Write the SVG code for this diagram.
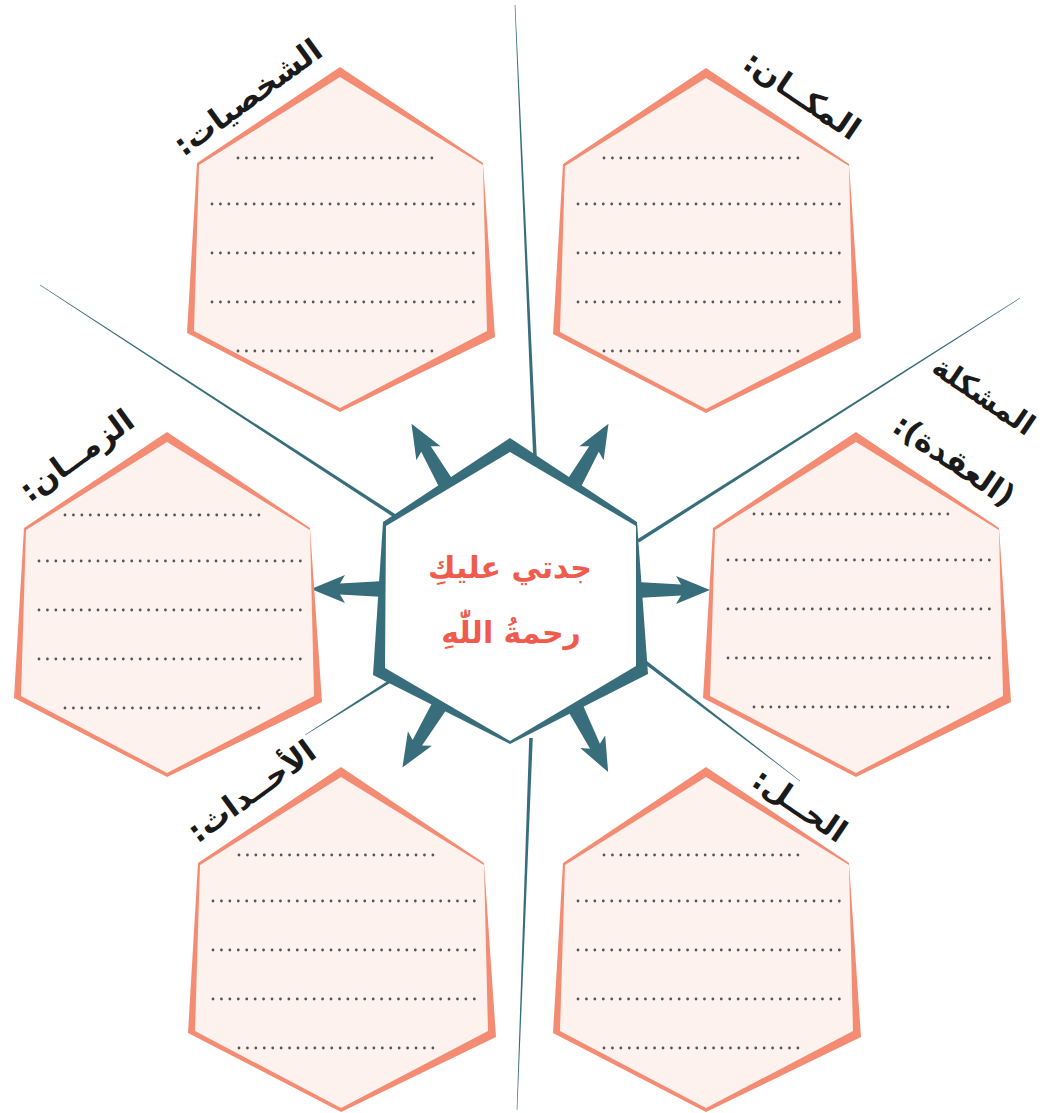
<svg xmlns="http://www.w3.org/2000/svg" xmlns:xlink="http://www.w3.org/1999/xlink" width="1045" height="1113" viewBox="0 0 1045 1113">
  <style>
    .hexOuter { fill: #F48B73; }
    .hexInner { fill: #FEF2EE; }
    .dots { stroke: #555555; stroke-width: 2.8; stroke-linecap: round; stroke-dasharray: 0 8.43; fill: none; }
    .teal { fill: #386E7B; }
    .label { font-family: "DejaVu Sans", "Noto Sans", sans-serif; font-weight: bold; font-size: 31px; fill: #1a1a1a; text-anchor: middle; }
    .center { font-family: "DejaVu Sans", "Noto Sans", sans-serif; font-weight: bold; font-size: 30px; fill: #EF5B4C; text-anchor: middle; }
  </style>
  <defs>
    <g id="hex">
      <polygon class="hexOuter" points="0,0 -143,96 -153,266 0,345 155,270 143,96"/>
      <polygon class="hexInner" points="0,10 -141,98 -146,264 0,341 147,264 143,98"/>
    </g>
    <g id="rows">
      <line class="dots" x1="-102" y1="0" x2="92.4" y2="0"/>
      <line class="dots" x1="-128" y1="46" x2="133.8" y2="46"/>
      <line class="dots" x1="-128" y1="95" x2="133.8" y2="95"/>
      <line class="dots" x1="-128" y1="144" x2="133.8" y2="144"/>
      <line class="dots" x1="-102" y1="193" x2="92.4" y2="193"/>
    </g>
    <path id="arrow" d="M0,-8 L44,-5.5 L39,-14 L73,0 L39,14 L44,5.5 L0,8 Z"/>
  </defs>

  <rect width="1045" height="1113" fill="#ffffff"/>

  <g id="connectors" class="teal">
    <polygon points="515.3,5 536.8,457.9 533.2,458.1 514.7,5"/>
    <polygon points="40.16,284.75 399.0,516.5 397.0,519.5 39.84,285.25"/>
    <polygon points="1019.84,297.75 637.03,539.48 638.97,542.52 1020.16,298.25"/>
    <polygon points="800.12,780.84 641.1,656.57 638.9,659.43 799.88,781.16"/>
    <polygon points="305.1,735.17 392.8,681.27 391.2,678.73 304.9,734.83"/>
    <polygon points="517.3,1110 532.8,738.07 529.2,737.93 516.7,1110"/>
    <use xlink:href="#arrow" href="#arrow" transform="translate(448,487) rotate(-120)"/>
    <use xlink:href="#arrow" href="#arrow" transform="translate(572,487) rotate(-60)"/>
    <use xlink:href="#arrow" href="#arrow" transform="translate(637,590)"/>
    <use xlink:href="#arrow" href="#arrow" transform="translate(384,589) rotate(180)"/>
    <use xlink:href="#arrow" href="#arrow" transform="translate(440,705) rotate(121)"/>
    <use xlink:href="#arrow" href="#arrow" transform="translate(575,707) rotate(63)"/>
  </g>

  <g id="node-center">
    <polygon class="teal" points="510,438 383,522 373,675 510,744 648,674 637,522"/>
    <polygon fill="#ffffff" points="510,452 386,526 385,668 510,741 636,666 636,526"/>
    <text class="center" x="510" y="578" direction="rtl">جدتي عليكِ</text>
    <text class="center" x="511" y="643" direction="rtl">رحمةُ اللّٰهِ</text>
  </g>

  <g id="node-characters">
    <use xlink:href="#hex" href="#hex" x="340" y="67"/>
    <use xlink:href="#rows" href="#rows" x="340" y="158"/>
    <text class="label" direction="rtl" transform="translate(254,106) rotate(-36)">الشخصيات:</text>
  </g>

  <g id="node-place">
    <use xlink:href="#hex" href="#hex" x="706" y="68"/>
    <use xlink:href="#rows" href="#rows" x="706" y="158"/>
    <text class="label" direction="rtl" transform="translate(796,104) rotate(34)">المكــان:</text>
  </g>

  <g id="node-time">
    <use xlink:href="#hex" href="#hex" x="167" y="432"/>
    <use xlink:href="#rows" href="#rows" x="167" y="515"/>
    <text class="label" direction="rtl" transform="translate(83,464) rotate(-36)">الزمــان:</text>
  </g>

  <g id="node-problem">
    <use xlink:href="#hex" href="#hex" x="856" y="432"/>
    <use xlink:href="#rows" href="#rows" x="856" y="514"/>
    <text class="label" style="font-size:29px" direction="rtl" transform="translate(978,404) rotate(34)">المشكلة</text>
    <text class="label" direction="rtl" transform="translate(948,469) rotate(34)">(العقدة):</text>
  </g>

  <g id="node-events">
    <use xlink:href="#hex" href="#hex" x="341" y="767"/>
    <use xlink:href="#rows" href="#rows" x="341" y="855"/>
    <text class="label" direction="rtl" transform="translate(258,800) rotate(-36)">الأحــداث:</text>
  </g>

  <g id="node-solution">
    <use xlink:href="#hex" href="#hex" x="706" y="767"/>
    <use xlink:href="#rows" href="#rows" x="706" y="855"/>
    <text class="label" direction="rtl" transform="translate(794,814) rotate(34)">الحــل:</text>
  </g>
</svg>
